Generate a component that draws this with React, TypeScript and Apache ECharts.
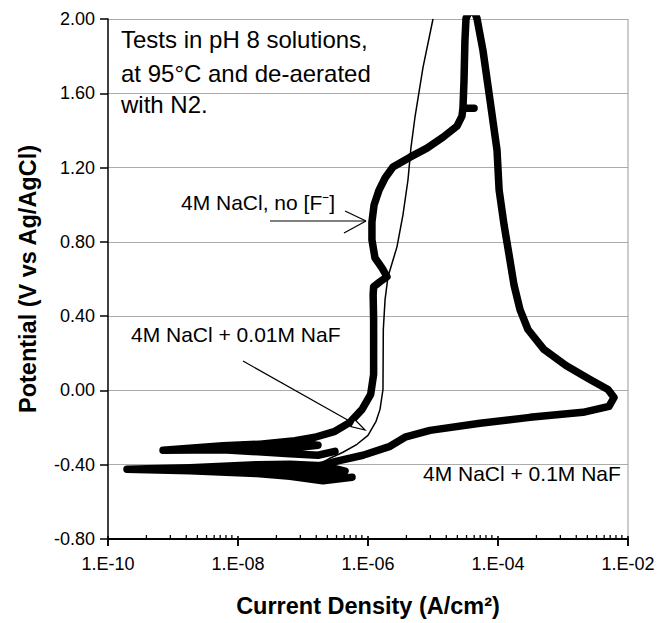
import React, { useEffect, useRef } from 'react';
import * as echarts from 'echarts';

// [current density (A/cm2), potential (V vs Ag/AgCl)]
const noFluoride: [number, number][] = [
  [3.10e-7, -0.328], [1.70e-7, -0.349], [6.31e-8, -0.341], [5.87e-9, -0.319],
  [7.02e-10, -0.322], [5.87e-9, -0.298], [6.31e-8, -0.282], [1.70e-7, -0.295],
  [6.31e-8, -0.311], [5.87e-9, -0.309], [2.18e-8, -0.290], [7.53e-8, -0.271],
  [1.53e-7, -0.252], [3.10e-7, -0.220], [5.28e-7, -0.172],
  [8.10e-7, -0.102], [1.10e-6, -0.021], [1.22e-6, 0.086], [1.22e-6, 0.220],
  [1.22e-6, 0.381], [1.20e-6, 0.515], [1.22e-6, 0.558], [1.53e-6, 0.585],
  [1.96e-6, 0.612], [1.64e-6, 0.660], [1.28e-6, 0.714], [1.15e-6, 0.811],
  [1.15e-6, 0.907], [1.24e-6, 0.999], [1.48e-6, 1.079], [1.83e-6, 1.144],
  [2.42e-6, 1.203], [4.43e-6, 1.256], [8.09e-6, 1.305], [1.43e-5, 1.364],
  [2.34e-5, 1.423], [2.79e-5, 1.477], [2.89e-5, 1.519], [4.28e-5, 1.519],
  [2.89e-5, 1.519], [3.00e-5, 1.670], [3.10e-5, 1.885], [3.22e-5, 2.003],
  [3.98e-5, 2.072], [4.75e-5, 2.003], [5.87e-5, 1.831], [7.54e-5, 1.562],
  [9.66e-5, 1.294], [1.04e-4, 1.079], [1.24e-4, 0.891], [1.48e-4, 0.730],
  [1.76e-4, 0.569], [2.18e-4, 0.435], [2.89e-4, 0.328], [5.11e-4, 0.220],
  [1.11e-3, 0.134], [2.60e-3, 0.059], [4.92e-3, 0.005], [6.10e-3, -0.038],
  [5.10e-3, -0.086], [2.03e-3, -0.118], [3.10e-4, -0.145], [5.28e-5, -0.177],
  [9.00e-6, -0.215], [3.71e-6, -0.252], [2.18e-6, -0.301], [8.37e-7, -0.349],
  [3.33e-7, -0.381], [1.70e-7, -0.408],
];

const naF001: [number, number][] = [
  [1.70e-7, -0.403], [2.60e-7, -0.365], [4.12e-7, -0.333], [6.77e-7, -0.290],
  [1.0e-6, -0.242], [1.33e-6, -0.166], [1.53e-6, -0.102], [1.70e-6, 0.005],
  [1.72e-6, 0.328], [1.83e-6, 0.489], [2.03e-6, 0.612], [2.79e-6, 0.773],
  [3.45e-6, 0.945], [4.12e-6, 1.133], [4.59e-6, 1.310], [5.28e-6, 1.471],
  [7.02e-6, 1.740], [1.0e-5, 2.0],
];

const naF01: [number, number][] = [
  [5.68e-7, -0.467], [2.03e-7, -0.486], [6.31e-8, -0.462], [1.96e-8, -0.448],
  [1.83e-9, -0.432], [1.96e-10, -0.424], [1.83e-9, -0.416], [1.96e-8, -0.400],
  [6.31e-8, -0.397], [2.03e-7, -0.405], [4.43e-7, -0.435], [2.03e-7, -0.446],
  [6.31e-8, -0.430], [1.96e-8, -0.424], [5.28e-9, -0.424],
];

// log-axis tick positions
const majorTicks = [1e-10, 1e-8, 1e-6, 1e-4, 1e-2];
const minorMultipliers = [3.9, 9.1, 16, 23.7, 32.8, 43, 53.2, 65.3, 80.5];
const xMin = 1e-10;
const xMax = 1e-2;
const yMin = -0.8;
const yMax = 2.0;
const yStep = 0.4;

const FONT = 'Liberation Sans, Arial, Helvetica, sans-serif';

export default function App() {
  const ref = useRef<HTMLDivElement>(null);

  useEffect(() => {
    if (!ref.current) return;
    const chart = echarts.init(ref.current, null, { renderer: 'svg' });

    // [value, potential at axis, 1 = major / 0 = minor]
    const tickRows: [number, number, number][] = [];
    majorTicks.forEach((m, i) => {
      tickRows.push([m, yMin, 1]);
      if (i < majorTicks.length - 1) minorMultipliers.forEach((k) => tickRows.push([m * k, yMin, 0]));
    });

    const fmtX = (v: number) => {
      const e = Math.round(Math.log10(v));
      return '1.E' + (e < 0 ? '-' : '+') + String(Math.abs(e)).padStart(2, '0');
    };

    const thick = { color: '#000', width: 7.5, join: 'round', cap: 'round' };

    const option: any = {
      animation: false,
      backgroundColor: '#fff',
      grid: { left: 108, right: 40, top: 19, bottom: 83, show: false },
      xAxis: {
        type: 'log',
        logBase: 10,
        min: xMin,
        max: xMax,
        interval: 2,
        z: 10,
        name: 'Current Density (A/cm²)',
        nameLocation: 'middle',
        nameGap: 55,
        nameTextStyle: { fontSize: 23.5, fontWeight: 'bold', color: '#000', fontFamily: FONT },
        axisLine: { show: true, onZero: false, lineStyle: { color: '#000', width: 2 } },
        axisTick: { show: true, inside: false, length: 7, lineStyle: { color: '#000', width: 1.5 } },
        axisLabel: { show: true, formatter: fmtX, fontSize: 18, color: '#000', fontFamily: FONT, margin: 16 },
        splitLine: { show: false },
      },
      yAxis: {
        type: 'value',
        min: yMin,
        max: yMax,
        interval: yStep,
        name: 'Potential (V vs Ag/AgCl)',
        nameLocation: 'middle',
        nameRotate: 90,
        nameGap: 68,
        nameTextStyle: { fontSize: 23.5, fontWeight: 'bold', color: '#000', fontFamily: FONT },
        axisLine: { show: true, onZero: false, lineStyle: { color: '#000', width: 1.5 } },
        axisTick: { show: true, inside: false, length: 8, lineStyle: { color: '#000', width: 1.5 } },
        axisLabel: { formatter: (v: number) => v.toFixed(2), fontSize: 18, color: '#000', fontFamily: FONT, margin: 13 },
        splitLine: { show: true, showMinLine: false, lineStyle: { color: '#ababab', width: 1 } },
      },
      series: [
        {
          type: 'custom',
          data: [[xMax, yMin]],
          clip: false,
          silent: true,
          z: 9,
          renderItem: (params: any, api: any) => {
            const a = api.coord([xMin, yMin]);
            const b = api.coord([xMax, yMin]);
            const c = api.coord([xMax, yMax]);
            return {
              type: 'group',
              children: [
                { type: 'line', shape: { x1: c[0], y1: c[1], x2: b[0], y2: b[1] }, style: { stroke: '#999', lineWidth: 1 } },
                { type: 'line', shape: { x1: a[0], y1: a[1], x2: b[0], y2: b[1] }, style: { stroke: '#000', lineWidth: 2.2 } },
              ],
            };
          },
        },
        {
          type: 'custom',
          data: tickRows,
          clip: false,
          silent: true,
          z: 10,
          renderItem: (params: any, api: any) => {
            const p = api.coord([api.value(0), api.value(1)]);
            const major = api.value(2) === 1;
            return {
              type: 'line',
              shape: { x1: p[0], y1: p[1] - (major ? 3 : 4), x2: p[0], y2: p[1] + (major ? 7 : 0) },
              style: { stroke: '#000', lineWidth: major ? 1.6 : 1.3 },
            };
          },
        },
        {
          name: '4M NaCl + 0.01M NaF',
          type: 'line',
          data: naF001,
          showSymbol: false,
          symbol: 'none',
          lineStyle: { color: '#000', width: 1.5, join: 'round' },
          z: 3,
        },
        {
          name: '4M NaCl, no [F-]',
          type: 'line',
          data: noFluoride,
          showSymbol: false,
          symbol: 'none',
          lineStyle: thick,
          z: 4,
        },
        {
          name: '4M NaCl + 0.1M NaF',
          type: 'line',
          data: naF01,
          showSymbol: false,
          symbol: 'none',
          lineStyle: thick,
          z: 4,
        },
      ],
      graphic: [
        { type: 'text', x: 121, y: 39, z: 10, style: { text: 'Tests in pH 8 solutions,', fontSize: 24, fontFamily: FONT, fill: '#000', align: 'left', verticalAlign: 'middle' } },
        { type: 'text', x: 121, y: 73.5, z: 10, style: { text: 'at 95°C and de-aerated', fontSize: 24, fontFamily: FONT, fill: '#000', align: 'left', verticalAlign: 'middle' } },
        { type: 'text', x: 121, y: 104, z: 10, style: { text: 'with N2.', fontSize: 24, fontFamily: FONT, fill: '#000', align: 'left', verticalAlign: 'middle' } },
        { type: 'text', x: 181, y: 202, z: 10, style: { text: '4M NaCl, no [F⁻]', fontSize: 21, fontFamily: FONT, fill: '#000', align: 'left', verticalAlign: 'middle' } },
        { type: 'text', x: 131, y: 334, z: 10, style: { text: '4M NaCl + 0.01M NaF', fontSize: 21, fontFamily: FONT, fill: '#000', align: 'left', verticalAlign: 'middle' } },
        { type: 'text', x: 423, y: 473, z: 10, style: { text: '4M NaCl + 0.1M NaF', fontSize: 21, fontFamily: FONT, fill: '#000', align: 'left', verticalAlign: 'middle' } },
        { type: 'line', z: 10, shape: { x1: 270, y1: 221, x2: 366, y2: 221 }, style: { stroke: '#000', lineWidth: 1.2 } },
        { type: 'line', z: 10, shape: { x1: 345, y1: 211, x2: 366, y2: 221 }, style: { stroke: '#000', lineWidth: 1.2 } },
        { type: 'line', z: 10, shape: { x1: 344, y1: 233, x2: 366, y2: 221 }, style: { stroke: '#000', lineWidth: 1.2 } },
        { type: 'line', z: 10, shape: { x1: 243, y1: 361, x2: 353, y2: 423 }, style: { stroke: '#000', lineWidth: 1.2 } },
        { type: 'polygon', z: 11, shape: { points: [[365, 430], [350.8, 426.6], [354.8, 419.6]] }, style: { fill: '#fff', stroke: '#000', lineWidth: 1.2 } },
      ],
    };

    chart.setOption(option);
    return () => chart.dispose();
  }, []);

  return (
    <div
      ref={ref}
      style={{ position: 'fixed', left: 0, top: 0, width: 668, height: 623, background: '#fff' }}
    />
  );
}
